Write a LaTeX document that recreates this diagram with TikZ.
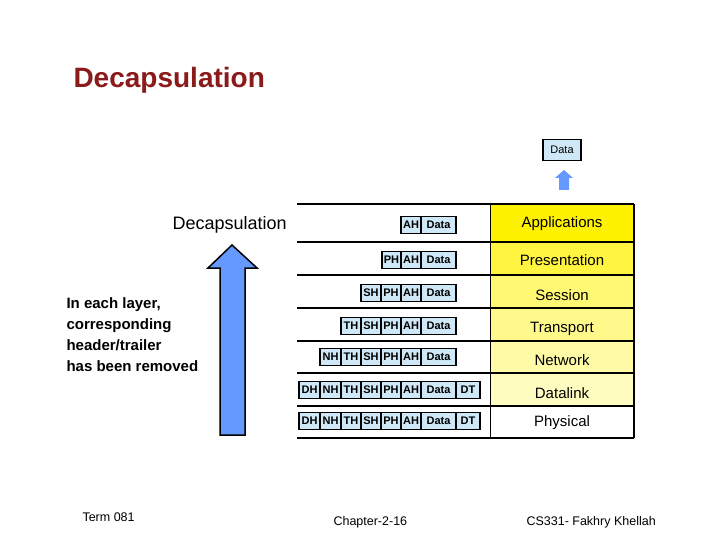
\documentclass[tikz,border=0pt]{standalone}
\usepackage{fontspec}
\setmainfont{Liberation Sans}
\begin{document}
\begin{tikzpicture}[x=1pt,y=-1pt,
 cellbox/.style={draw=black,line width=1.6pt,fill=cellblue,inner sep=0pt,font=\fontsize{11}{12}\selectfont\bfseries},
 lay/.style={inner sep=0pt,font=\fontsize{15}{17}\selectfont},
 sep/.style={line width=1.6pt}]
\definecolor{cellblue}{HTML}{CFE8F7}
\definecolor{arrblue}{HTML}{6699FF}
\definecolor{titred}{HTML}{8B1A1A}
\useasboundingbox (0,0) rectangle (720,540);
\newcommand{\cel}[5]{\node[cellbox,minimum width={#3-#2},minimum height=17pt] (#1) at ({(#2+#3)/2},#4) {#5};}
% title
\node[anchor=west,text=titred,font=\fontsize{28}{32}\selectfont\bfseries] (title) at (70,80) {Decapsulation};
% layer fills
\fill[yellow] (490,204) rectangle (634,242);
\fill[yellow!75] (490,242) rectangle (634,275);
\fill[yellow!55] (490,275) rectangle (634,308);
\fill[yellow!45] (490,308) rectangle (634,341);
\fill[yellow!35] (490,341) rectangle (634,373);
\fill[yellow!25] (490,373) rectangle (634,406);
% lines
\draw[line width=2.5pt] (297,204) -- (634,204);
\foreach \yy in {242,275,308,341,373,406}{\draw[sep] (297,\yy) -- (634,\yy);}
\draw[line width=2.5pt] (297,438) -- (634,438);
\draw[line width=1pt] (490,204) -- (490,438);
\draw[line width=1.5pt] (634,204) -- (634,438);
% layer labels
\node[lay] (app) at (562,224) {Applications};
\node[lay] (pre) at (562,260) {Presentation};
\node[lay] (ses) at (562,295) {Session};
\node[lay] (tra) at (562,329) {Transport};
\node[lay] (net) at (562,360) {Network};
\node[lay] (dl) at (562,393) {Datalink};
\node[lay] (phy) at (562,423) {Physical};
% rows
\cel{a1}{401}{421}{225}{AH}\cel{a2}{421}{456}{225}{Data}
\cel{p1}{382}{401}{260}{PH}\cel{p2}{401}{421}{260}{AH}\cel{p3}{421}{456}{260}{Data}
\cel{s1}{361}{381}{293}{SH}\cel{s2}{381}{401}{293}{PH}\cel{s3}{401}{421}{293}{AH}\cel{s4}{421}{456}{293}{Data}
\cel{t1}{341}{361}{326}{TH}\cel{t2}{361}{381}{326}{SH}\cel{t3}{381}{401}{326}{PH}\cel{t4}{401}{421}{326}{AH}\cel{t5}{421}{456}{326}{Data}
\cel{n1}{320}{341}{357}{NH}\cel{n2}{341}{361}{357}{TH}\cel{n3}{361}{381}{357}{SH}\cel{n4}{381}{401}{357}{PH}\cel{n5}{401}{421}{357}{AH}\cel{n6}{421}{456}{357}{Data}
\cel{d1}{299}{320}{390}{DH}\cel{d2}{320}{341}{390}{NH}\cel{d3}{341}{361}{390}{TH}\cel{d4}{361}{381}{390}{SH}\cel{d5}{381}{401}{390}{PH}\cel{d6}{401}{421}{390}{AH}\cel{d7}{421}{456}{390}{Data}\cel{d8}{456}{480}{390}{DT}
\cel{h1}{299}{320}{421}{DH}\cel{h2}{320}{341}{421}{NH}\cel{h3}{341}{361}{421}{TH}\cel{h4}{361}{381}{421}{SH}\cel{h5}{381}{401}{421}{PH}\cel{h6}{401}{421}{421}{AH}\cel{h7}{421}{456}{421}{Data}\cel{h8}{456}{480}{421}{DT}
% top data
\node[cellbox,minimum width=38pt,minimum height=21pt,font=\fontsize{11}{12}\selectfont] (top) at (562,150) {Data};
\fill[arrblue] (559,190) -- (559,178) -- (555,178) -- (564,170) -- (573,178) -- (569,178) -- (569,190) -- cycle;
% big arrow
\draw[line width=1.5pt,fill=arrblue] (220,435) -- (220,268) -- (208,268) -- (232,245) -- (257,268) -- (245,268) -- (245,435) -- cycle;
\node[anchor=west,font=\fontsize{18}{20}\selectfont] (dec) at (169,225) {Decapsulation};
\node[anchor=north west,align=left,font=\fontsize{15}{21}\selectfont\bfseries] (desc) at (63,294) {In each layer,\\corresponding\\header/trailer\\has been removed};
% footer
\node[anchor=west,font=\fontsize{12.5}{14}\selectfont] (f1) at (79,517) {Term 081};
\node[anchor=west,font=\fontsize{12.5}{14}\selectfont] (f2) at (330,522) {Chapter-2-16};
\node[anchor=west,font=\fontsize{12.5}{14}\selectfont] (f3) at (523,522) {CS331- Fakhry Khellah};
\end{tikzpicture}
\end{document}
